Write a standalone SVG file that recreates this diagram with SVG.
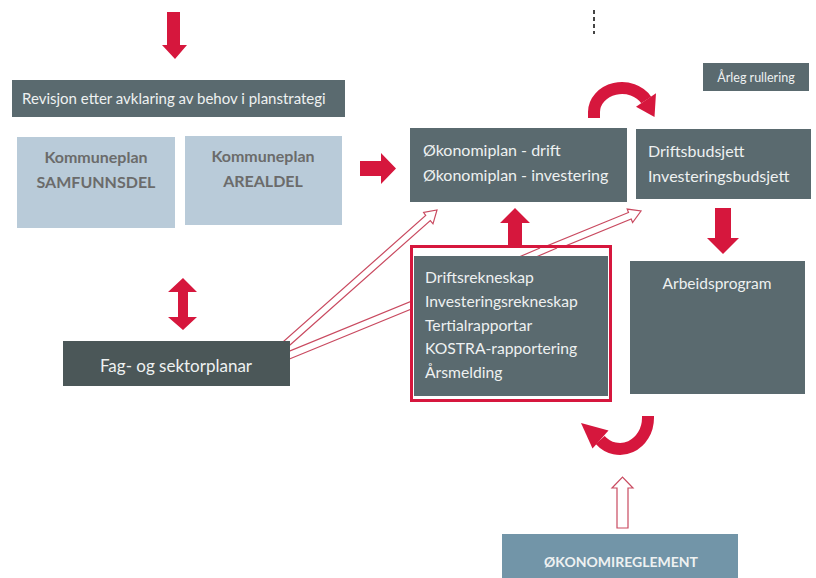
<svg xmlns="http://www.w3.org/2000/svg" width="816" height="578" viewBox="0 0 816 578">
<style>
.dark{fill:#5a6a6f}
.darker{fill:#4b5758}
.light{fill:#b9cbd9}
.red{fill:#d6173d}
.hollow{fill:#ffffff;stroke:#c94a60;stroke-width:1.2;stroke-linejoin:miter}
.t{font-family:Lato,"Open Sans","Noto Sans",sans-serif;fill:#eef1f1}
.tb{font-family:Lato,"Open Sans","Noto Sans",sans-serif;font-weight:bold;fill:#6b6b6b;font-size:16px}
.arc{fill:none;stroke:#d6173d;stroke-width:12}
</style>
<rect x="0" y="0" width="816" height="578" fill="#ffffff"/>

<g id="connectors">
  <!-- top down arrow -->
  <polygon class="red" points="167,12 180,12 180,45 187,45 175,59 162,45 167,45"/>
  <!-- right arrow to Økonomiplan -->
  <polygon class="red" points="360,161 381,161 381,153 396,168.5 381,184 381,176 360,176"/>
  <!-- double vertical arrow -->
  <polygon class="red" points="183,278 197,292 188,292 188,317 197,317 183,330 168,317 178,317 178,292 168,292"/>
  <!-- up arrow from rekneskap to økonomiplan -->
  <polygon class="red" points="515,208 530,223 522,223 522,250 508,250 508,223 500,223"/>
  <!-- down arrow from budsjett to arbeidsprogram -->
  <polygon class="red" points="715,208 731,208 731,238 739,238 723,254 707,238 715,238"/>
  <!-- top curved arrow -->
  <path class="arc" d="M594,118 L594,112 A28,24 0 0 1 646.2,100"/>
  <polygon class="red" points="656,93.3 636,106.7 654.5,117"/>
  <!-- bottom curved arrow -->
  <path class="arc" d="M648,416 L648,418 A28,31 0 0 1 600.2,439.9"/>
  <polygon class="red" points="608.5,430.5 592.5,448.5 581,423"/>
  <!-- hollow arrow Fag -> Økonomiplan -->
  <polygon class="hollow" points="286.6,348 430.3,220.5 433,223.8 437,210 423.6,212.5 425.7,215.5 282,342.8"/>
  <!-- hollow arrow Fag -> Budsjett -->
  <polygon class="hollow" points="287,360 631.2,219 632.6,222.5 641,211 627.2,209.1 628.5,212.5 284.5,353.2"/>
  <!-- hollow up arrow from ØKONOMIREGLEMENT -->
  <polygon class="hollow" points="617,528 617,488 612,488 622.5,477 633,488 628,488 628,528"/>
</g>

<g id="revisjon">
  <rect class="dark" x="12" y="80" width="333" height="37"/>
  <text class="t" x="22" y="104" font-size="15">Revisjon etter avklaring av behov i planstrategi</text>
</g>

<g id="samfunnsdel">
  <rect class="light" x="17" y="137" width="158" height="91"/>
  <text class="tb" x="96" y="163" text-anchor="middle">Kommuneplan</text>
  <text class="tb" x="96" y="188" text-anchor="middle">SAMFUNNSDEL</text>
</g>

<g id="arealdel">
  <rect class="light" x="185" y="136" width="157" height="89"/>
  <text class="tb" x="263" y="162" text-anchor="middle">Kommuneplan</text>
  <text class="tb" x="263" y="187" text-anchor="middle">AREALDEL</text>
</g>

<g id="fag">
  <rect class="darker" x="63" y="341" width="227" height="45"/>
  <text class="t" x="176" y="372" font-size="17" text-anchor="middle">Fag- og sektorplanar</text>
</g>

<g id="okonomiplan">
  <rect class="dark" x="410" y="128" width="217" height="74"/>
  <text class="t" x="423" y="156" font-size="16">Økonomiplan - drift</text>
  <text class="t" x="423" y="181" font-size="16">Økonomiplan - investering</text>
</g>

<g id="budsjett">
  <rect class="dark" x="636" y="129" width="175" height="70"/>
  <text class="t" x="648" y="157" font-size="16">Driftsbudsjett</text>
  <text class="t" x="648" y="182" font-size="16">Investeringsbudsjett</text>
</g>

<g id="arleg">
  <rect class="dark" x="703" y="63" width="106" height="28"/>
  <text class="t" x="756" y="81.5" font-size="12.5" text-anchor="middle">Årleg rullering</text>
</g>

<g id="rekneskap">
  <rect x="411.5" y="246.5" width="199" height="154" fill="#ffffff" stroke="#d6173d" stroke-width="3"/>
  <line x1="519" y1="257" x2="540" y2="248" stroke="#c94a60" stroke-width="1.2"/>
  <line x1="536" y1="257" x2="557" y2="248" stroke="#c94a60" stroke-width="1.2"/>
  <rect class="dark" x="414" y="256" width="194" height="140"/>
  <line x1="416" y1="396.5" x2="606" y2="396.5" stroke="#ffffff" stroke-width="1" stroke-dasharray="1.5,1"/>
  <text class="t" x="425" y="283" font-size="15.7">Driftsrekneskap</text>
  <text class="t" x="425" y="307" font-size="15.7">Investeringsrekneskap</text>
  <text class="t" x="425" y="331" font-size="15.7">Tertialrapportar</text>
  <text class="t" x="425" y="354" font-size="15.7">KOSTRA-rapportering</text>
  <text class="t" x="425" y="378" font-size="15.7">Årsmelding</text>
</g>

<g id="arbeidsprogram">
  <rect class="dark" x="630" y="261" width="175" height="133"/>
  <text class="t" x="717" y="289" font-size="15.5" text-anchor="middle">Arbeidsprogram</text>
</g>

<g id="okonomireglement">
  <rect x="502" y="534" width="236" height="44" fill="#7295a8"/>
  <text class="t" x="621" y="567" font-size="14" text-anchor="middle" font-weight="bold">ØKONOMIREGLEMENT</text>
</g>

<g id="dashed">
  <line x1="594" y1="10" x2="594" y2="34" stroke="#444" stroke-width="2" stroke-dasharray="4,3"/>
</g>
</svg>
